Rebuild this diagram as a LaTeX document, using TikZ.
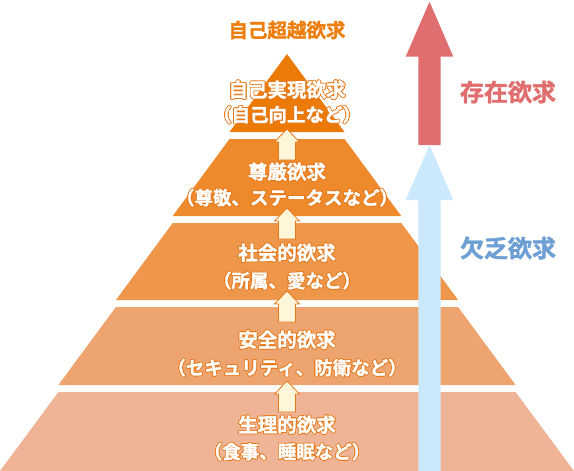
\documentclass[tikz,border=0pt]{standalone}
\usepackage{fontspec}
\setmainfont{Noto Sans CJK JP}[BoldFont={Noto Sans CJK JP Bold},BoldFeatures={FakeBold=1.5}]
\usepackage{contour}
\contourlength{0.7pt}
\definecolor{bandA}{HTML}{EB7A06}
\definecolor{bandB}{HTML}{EE8A2B}
\definecolor{bandC}{HTML}{EE974A}
\definecolor{bandD}{HTML}{EDA46F}
\definecolor{bandE}{HTML}{EEB495}
\definecolor{titleorange}{HTML}{EE7E0C}
\definecolor{outlineorange}{HTML}{E8791A}
\definecolor{cream}{HTML}{FFF5D8}
\definecolor{redarrow}{HTML}{E06E6E}
\definecolor{bluearrow}{HTML}{CBE8FC}
\definecolor{bluetext}{HTML}{6D9FD4}
\tikzset{
  smallarrow/.style={draw=outlineorange, line width=0.8pt, fill=cream, line join=miter},
  mainline/.style={text=white, font=\bfseries\fontsize{19.5pt}{19.5pt}\selectfont, inner sep=0pt},
  subline/.style={text=white, font=\bfseries\fontsize{18.5pt}{18.5pt}\selectfont, inner sep=0pt},
  sidelabel/.style={font=\bfseries\fontsize{24pt}{24pt}\selectfont, inner sep=0pt},
  uparrow/.pic={\draw[smallarrow] (-8.5,31) -- (-8.5,13) -- (-12.5,13) -- (0,0) -- (12.5,13) -- (8.5,13) -- (8.5,31) -- cycle;}
}
\newcommand{\ol}[1]{\contour{outlineorange}{#1}}
\begin{document}
\begin{tikzpicture}[x=1pt,y=-1pt]
\useasboundingbox (0,0) rectangle (574,471);
% pyramid bands
\fill[bandA] (287,54) -- (344.5,132) -- (229.5,132) -- cycle;
\fill[bandB] (229.5,139) -- (344.5,139) -- (401.3,216) -- (172.7,216) -- cycle;
\fill[bandC] (172.7,223) -- (401.3,223) -- (458.1,300) -- (115.9,300) -- cycle;
\fill[bandD] (115.9,307) -- (458.1,307) -- (515.6,385) -- (58.4,385) -- cycle;
\fill[bandE] (58.4,392) -- (515.6,392) -- (574,471) -- (0,471) -- cycle;
% small up arrows
\pic at (287,129) {uparrow};
\pic at (287,208) {uparrow};
\pic at (287,291) {uparrow};
\pic at (287,381) {uparrow};
% big arrows
\fill[redarrow] (429.5,1.7) -- (453.3,56.7) -- (440.7,56.7) -- (440.7,145) -- (418.3,145) -- (418.3,56.7) -- (405.7,56.7) -- cycle;
\fill[bluearrow] (429.5,145) -- (453.3,200) -- (440.7,200) -- (440.7,471) -- (418.3,471) -- (418.3,200) -- (405.7,200) -- cycle;
% texts
\node[mainline, text=titleorange] (title) at (287,30) {自己超越欲求};
\node[mainline] (a1) at (287,90) {\ol{自己実現欲求}};
\node[subline] (a2) at (287,115) {\ol{（自己向上など）}};
\node[mainline] (b1) at (287,172) {\ol{尊厳欲求}};
\node[subline] (b2) at (287,198) {\ol{（尊敬、ステータスなど）}};
\node[mainline] (c1) at (287,253) {\ol{社会的欲求}};
\node[subline] (c2) at (287,281) {\ol{（所属、愛など）}};
\node[mainline] (d1) at (287,340) {\ol{安全的欲求}};
\node[subline] (d2) at (287,368) {\ol{（セキュリティ、防衛など）}};
\node[mainline] (e1) at (287,425) {\ol{生理的欲求}};
\node[subline] (e2) at (287,452) {\ol{（食事、睡眠など）}};
\node[sidelabel, text=redarrow] (exist) at (508,92) {存在欲求};
\node[sidelabel, text=bluetext] (lack) at (508,248) {欠乏欲求};
\end{tikzpicture}
\end{document}
